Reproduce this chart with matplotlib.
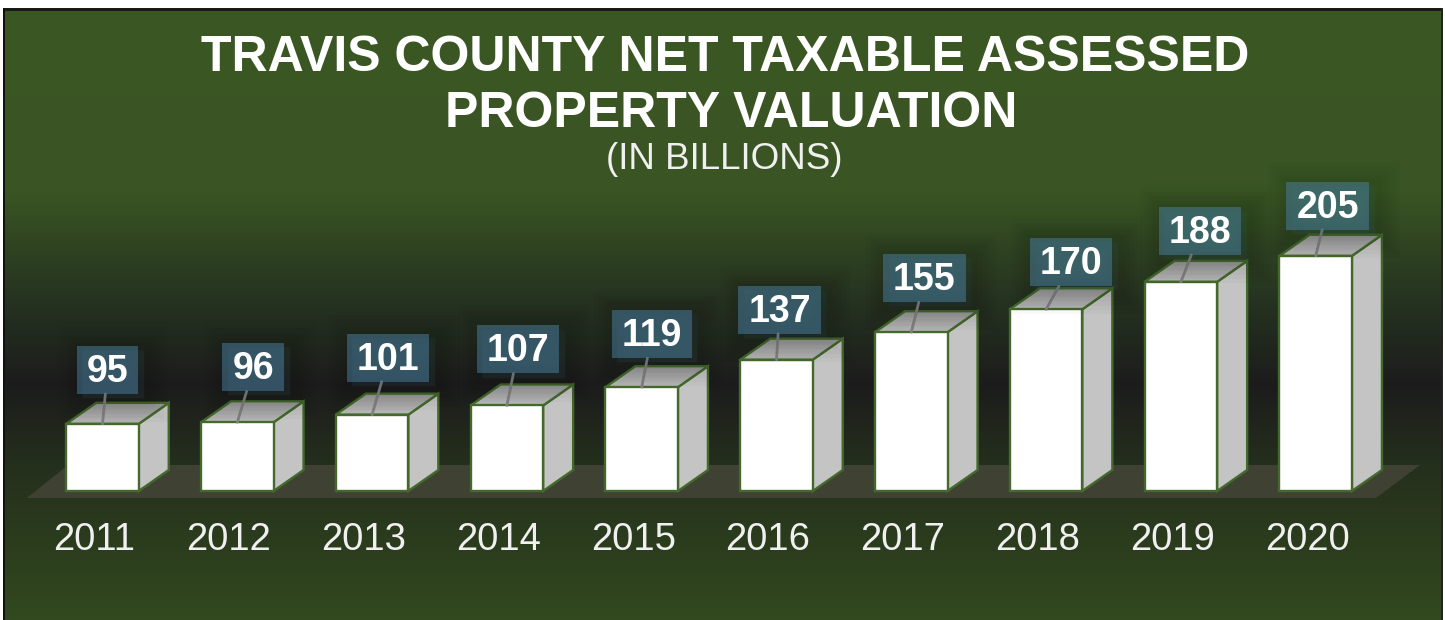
import numpy as np
import matplotlib
matplotlib.use("Agg")
import matplotlib.pyplot as plt
from matplotlib.colors import LinearSegmentedColormap
from matplotlib.patches import Polygon, Rectangle
from matplotlib.path import Path
import matplotlib.patheffects as pe

plt.rcParams['font.family'] = ['Liberation Sans', 'DejaVu Sans']

years = ['2011','2012','2013','2014','2015','2016','2017','2018','2019','2020']
values = [95, 96, 101, 107, 119, 137, 155, 170, 188, 205]

# label box offset from the front top edge of each bar, in pixels
label_dx = [5, 16, 16, 11, 10, 3, 13, 25, 19, 12]
label_dy = [52, 53, 55, 54, 51, 48, 52, 45, 49, 48]

W, H = 1445, 620
base_px = 491
px_per_year = 134.8
px_per_unit = 1.527
ymin = 51
bar_w = 72.5
depth_x, depth_y = 30, 21
edge = '#44692c'


def label_box(x0, y0, width, height, mutation_size):
    # fixed height box, text width plus a bit of padding
    cy = y0+height/2+2
    l, r = x0-10, x0+width+10
    b, t = cy-24, cy+24
    return Path([(l, b), (r, b), (r, t), (l, t), (l, b)], closed=True)


fig = plt.figure(figsize=(W/100, H/100), dpi=100)

# background, in pixel coordinates
bg = fig.add_axes([0, 0, 1, 1], zorder=0)
bg.set_xlim(0, W)
bg.set_ylim(H, 0)
bg.axis('off')
stops = [(0, '#3b5723'), (190/H, '#3a5523'), (300/H, '#253320'), (385/H, '#1c1c1c'),
         (470/H, '#25301c'), (1, '#32491f')]
cmap = LinearSegmentedColormap.from_list('bg', stops)
bg.imshow(np.linspace(0, 1, 620).reshape(-1, 1), cmap=cmap, extent=[0, W, H, 0], aspect='auto')
bg.add_patch(Rectangle((0, 0), W, 9, color='white', lw=0))
bg.add_patch(Rectangle((0, 0), 3, H, color='white', lw=0))
bg.add_patch(Rectangle((1443, 0), 2, H, color='white', lw=0))
bg.add_patch(Rectangle((3, 8), W-5, 2.5, color='#1a1a1a', lw=0))
bg.add_patch(Rectangle((3, 8), 2, H, color='#111111', lw=0))
bg.add_patch(Rectangle((1441, 8), 2, H, color='#222222', lw=0))
bg.add_patch(Polygon([(27, 498), (1376, 498), (1420, 465), (68, 465)], color='#3f4233', lw=0))

bg.text(725, 71, 'TRAVIS COUNTY NET TAXABLE ASSESSED', color='white', fontsize=36,
        fontweight='bold', ha='center', va='baseline')
bg.text(731, 127, 'PROPERTY VALUATION', color='white', fontsize=36,
        fontweight='bold', ha='center', va='baseline')
bg.text(724, 169, '(IN BILLIONS)', color='#f0f0f0', fontsize=26.5, ha='center', va='baseline')

# bars
ax = fig.add_axes([0, 1-base_px/H, 1, base_px/H], zorder=1)
ax.patch.set_alpha(0)
for s in ax.spines.values():
    s.set_visible(False)
x = np.arange(len(values))
xlim = (-94/px_per_year, (W-94)/px_per_year)
ylim = (ymin, ymin+base_px/px_per_unit)

off = 8.5/px_per_year
w = bar_w/px_per_year
dx = depth_x/px_per_year
dy = depth_y/px_per_unit
ax.bar(x+off, np.array(values)-ymin, bottom=ymin, width=w, color='white', edgecolor=edge,
       linewidth=1.7, zorder=3, clip_on=False)

top_grad = LinearSegmentedColormap.from_list('top', ['#b8b8b8', '#989898'])
for xi, v in zip(x+off, values):
    r = xi+w/2
    l = xi-w/2
    ax.add_patch(Polygon([(r, ymin), (r+dx, ymin+dy), (r+dx, v+dy), (r, v)], facecolor='#c4c4c4',
                         edgecolor=edge, lw=1.7, zorder=2, clip_on=False))
    top = Polygon([(l, v), (l+dx, v+dy), (r+dx, v+dy), (r, v)], facecolor='none',
                  edgecolor=edge, lw=1.7, zorder=2.5)
    ax.add_patch(top)
    im = ax.imshow(np.linspace(0, 1, 30).reshape(-1, 1), cmap=top_grad, aspect='auto', zorder=2.2,
                   extent=[l, r+dx, v, v+dy], origin='lower')
    im.set_clip_path(top)

for xi, v, ldx, ldy, s in zip(x+off, values, label_dx, label_dy, values):
    a = ax.annotate(str(s), xy=(xi, v), xytext=(ldx*0.72, ldy*0.72), textcoords='offset points',
                    color='white', fontsize=27, fontweight='bold', ha='center', va='center', zorder=5,
                    bbox=dict(boxstyle=label_box, fc='#4a7f9f', ec='none', alpha=0.52),
                    arrowprops=dict(arrowstyle='-', color='#7f7f7f', lw=2, shrinkA=0, shrinkB=0))
    a.get_bbox_patch().set_path_effects(
        [pe.Stroke(linewidth=w_, foreground='black', alpha=0.022, offset=(4, -3)) for w_ in (34, 28, 22, 16, 10)]
        + [pe.Normal()])

ax.set_xticks(x)
ax.set_xticklabels(years, color='#f0f0f0', fontsize=27.5)
ax.tick_params(axis='x', length=0, pad=22)
ax.set_yticks([])
ax.set_xlim(*xlim)
ax.set_ylim(*ylim)

fig.savefig('out.png', dpi=100)
